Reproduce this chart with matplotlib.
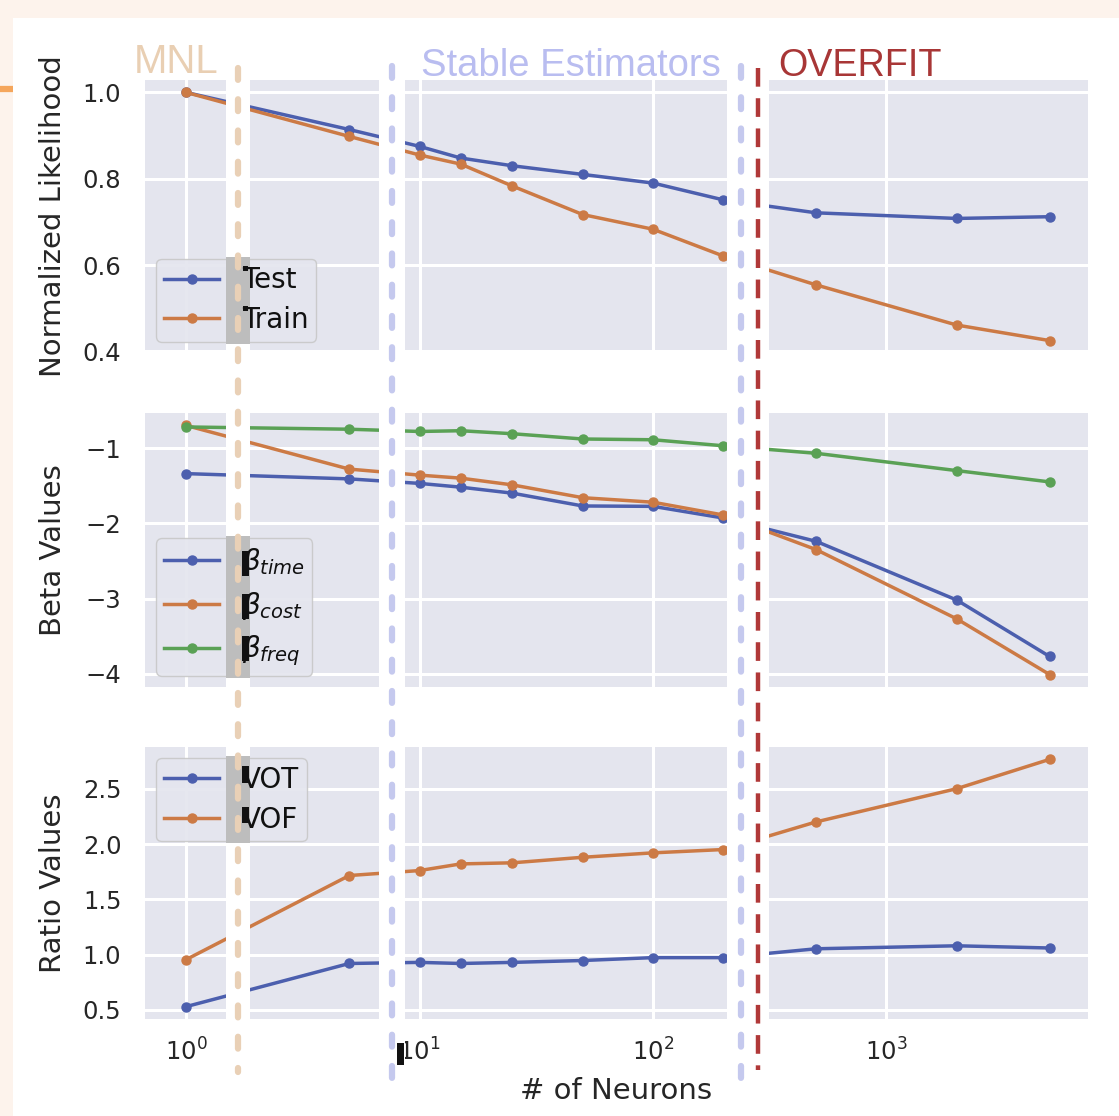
import matplotlib
matplotlib.use("Agg")
import matplotlib.pyplot as plt
from matplotlib.patches import Rectangle
from matplotlib.lines import Line2D
from matplotlib.transforms import IdentityTransform

# data
neurons = [1, 5, 10, 15, 25, 50, 100, 200, 500, 2000, 5000]

lik_test = [1.0, 0.914, 0.875, 0.848, 0.830, 0.810, 0.790, 0.751, 0.721, 0.708, 0.712]
lik_train = [1.0, 0.898, 0.855, 0.834, 0.783, 0.717, 0.683, 0.621, 0.554, 0.461, 0.425]

beta_time = [-1.34, -1.41, -1.47, -1.52, -1.60, -1.77, -1.775, -1.93, -2.24, -3.02, -3.77]
beta_cost = [-0.70, -1.28, -1.36, -1.40, -1.49, -1.66, -1.72, -1.89, -2.35, -3.27, -4.01]
beta_freq = [-0.72, -0.75, -0.78, -0.77, -0.81, -0.88, -0.89, -0.97, -1.07, -1.30, -1.45]

vot = [0.53, 0.92, 0.93, 0.92, 0.93, 0.947, 0.973, 0.973, 1.053, 1.08, 1.06]
vof = [0.955, 1.715, 1.76, 1.82, 1.83, 1.88, 1.92, 1.95, 2.20, 2.50, 2.765]

x_ticks = [1, 10, 100, 1000]
x_ticklabels = ["$10^0$", "$10^1$", "$10^2$", "$10^3$"]

region_labels = ["MNL", "Stable Estimators", "OVERFIT"]

BLUE = "#4c5fae"
ORANGE = "#cc7a45"
GREEN = "#5aa155"
AX_BG = "#e4e5ee"
INK = "#262626"
LEG_FS = 20

W, H = 1119, 1116
plt.rcParams["font.family"] = ["DejaVu Sans"]
plt.rcParams["mathtext.fontset"] = "dejavusans"

fig = plt.figure(figsize=(W / 100, H / 100), dpi=100)
fig.patch.set_facecolor("#fdf3ec")


def fx(px):
    return px / W


def fy(py):
    return 1 - py / H


def px_rect(x0, y0, x1, y1, color, z):
    fig.add_artist(Rectangle((fx(x0), fy(y1)), fx(x1) - fx(x0), (y1 - y0) / H,
                             transform=fig.transFigure, facecolor=color,
                             edgecolor="none", zorder=z))


# white page on the peach background
px_rect(13, 18, W, H, "white", -5)
fig.add_artist(Line2D([0, fx(13)], [fy(89), fy(89)], transform=fig.transFigure,
                      color="#f5a65c", lw=4.5, solid_capstyle="butt"))

boxes = [(80, 353), (413, 687), (747, 1019)]
axes = []
for top, bot in boxes:
    ax = fig.add_axes([fx(145), fy(bot), fx(1088) - fx(145), (bot - top) / H])
    ax.set_facecolor(AX_BG)
    ax.set_xscale("log")
    ax.set_xlim(0.667, 7300)
    ax.grid(True, which="major", color="white", lw=2.2)
    ax.grid(False, which="minor")
    ax.set_axisbelow(True)
    for s in ax.spines.values():
        s.set_visible(False)
    ax.tick_params(which="both", length=0, labelsize=17.5, pad=17, colors=INK)
    ax.tick_params(axis="x", pad=14)
    axes.append(ax)

line_kw = dict(lw=2.5, marker="o", ms=6.5)

ax1, ax2, ax3 = axes
ax1.plot(neurons, lik_test, color=BLUE, label="Test", **line_kw)
ax1.plot(neurons, lik_train, color=ORANGE, label="Train", **line_kw)
ax1.set_yticks([0.4, 0.6, 0.8, 1.0])
ax1.set_ylabel("Normalized Likelihood", fontsize=21, color=INK)

ax2.plot(neurons, beta_time, color=BLUE, label=r"$\beta_{time}$", **line_kw)
ax2.plot(neurons, beta_cost, color=ORANGE, label=r"$\beta_{cost}$", **line_kw)
ax2.plot(neurons, beta_freq, color=GREEN, label=r"$\beta_{freq}$", **line_kw)
ax2.set_yticks([-4, -3, -2, -1])
ax2.set_ylabel("Beta Values", fontsize=21, color=INK)

ax3.plot(neurons, vot, color=BLUE, label="VOT", **line_kw)
ax3.plot(neurons, vof, color=ORANGE, label="VOF", **line_kw)
ax3.set_yticks([0.5, 1.0, 1.5, 2.0, 2.5])
ax3.set_ylabel("Ratio Values", fontsize=21, color=INK)
ax3.set_xlabel("# of Neurons", fontsize=21, color=INK, labelpad=8)

for ax in (ax1, ax2):
    ax.set_xticks(x_ticks)
    ax.set_xticklabels([])
ax3.set_xticks(x_ticks)
ax3.set_xticklabels(x_ticklabels)

for ax in axes:
    ax.yaxis.set_label_coords(-0.083, 0.5)

leg_kw = dict(fontsize=LEG_FS, frameon=True, facecolor=AX_BG, edgecolor="#c8c8c8",
              framealpha=0.9, borderaxespad=0.4, borderpad=0.28, handlelength=2.0,
              handletextpad=0.8, labelspacing=0.42)
legs = [ax1.legend(loc="lower left", **leg_kw),
        ax2.legend(loc="lower left", **leg_kw),
        ax3.legend(loc="upper left", **leg_kw)]

# overlay: white strips with dashed region dividers
strips = [(226, 250), (379, 405), (727, 769)]
for x0, x1 in strips:
    px_rect(x0, 22, x1, 1112, "white", 3)

fig.canvas.draw()
for leg in legs:
    bb = leg.get_window_extent()
    fig.add_artist(Rectangle((fx(226), (bb.y0 - 2) / H), fx(250) - fx(226),
                             (bb.height + 4) / H, transform=fig.transFigure,
                             facecolor="#bdbdbd", edgecolor="none", zorder=4))
    # legend labels sit above the overlay in the reference
    for t in leg.get_texts():
        xd, yd = t.get_transform().transform(t.get_position())
        fig.text(xd, yd, t.get_text(), transform=IdentityTransform(),
                 fontsize=LEG_FS, color="#111111", ha="left", va="baseline", zorder=6)
        t.set_alpha(0)

dividers = [(238, 68, 1072, "#e9d0b6", 4.5, "round"),
            (392, 66, 1078, "#c5c9ee", 4.5, "round"),
            (741, 66, 1078, "#c5c9ee", 4.5, "round"),
            (758, 68, 1070, "#b03838", 3.2, "butt")]
for xp, y0, y1, col, lw, cap in dividers:
    ln = Line2D([fx(xp), fx(xp)], [fy(y0), fy(y1)], transform=fig.transFigure,
                color=col, lw=lw, dash_capstyle=cap, zorder=5)
    if cap == "round":
        ln.set_dashes((1.9, 3.1))
    else:
        ln.set_dashes((4.2, 2.6))
    fig.add_artist(ln)

# small dark screenshot artefacts next to legend labels and the 10^1 tick
marks = [(243, 266, 248, 271), (243, 306, 248, 311),
         (242, 551, 249, 576), (242, 594, 249, 619), (242, 636, 249, 661),
         (242, 766, 249, 783), (242, 807, 249, 823), (397, 1043, 404, 1065)]
for x0, y0, x1, y1 in marks:
    px_rect(x0, y0, x1, y1, "#111111", 7)

fig.text(fx(134), fy(73), region_labels[0], fontsize=29, color="#e9cfb3",
         family="Liberation Sans", ha="left", va="baseline")
fig.text(fx(421), fy(76), region_labels[1], fontsize=27.5, color="#b9bdf0",
         family="Liberation Sans", ha="left", va="baseline")
fig.text(fx(778), fy(76), region_labels[2], fontsize=27.2, color="#a83636",
         family="Liberation Sans", ha="left", va="baseline")

fig.savefig("out.png", dpi=100, facecolor=fig.get_facecolor())
